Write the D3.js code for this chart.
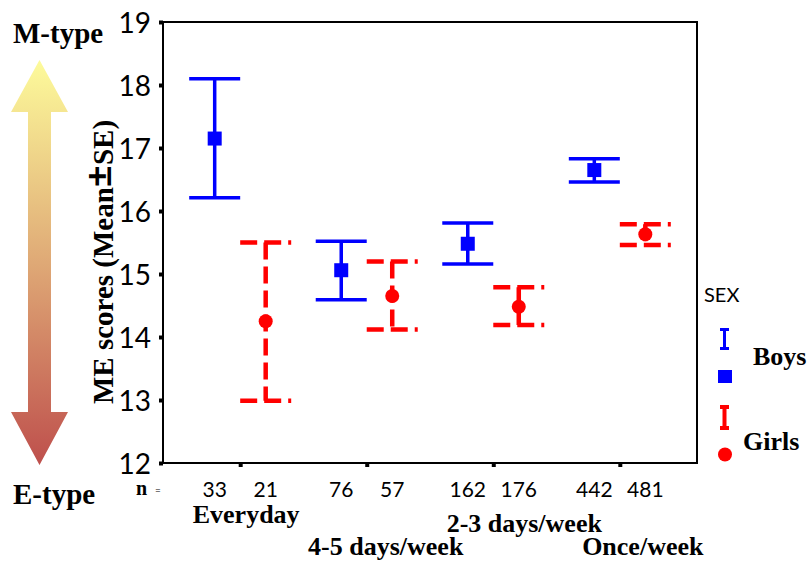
<!DOCTYPE html>
<html lang="en">
<head>
<meta charset="UTF-8">
<title>ME scores by frequency and sex</title>
<script src="https://d3js.org/d3.v7.min.js"></script>
<style>
  body { margin: 0; background: #fff; }
  svg { display: block; }
  .serif { font-family: "Liberation Serif", "Times New Roman", serif; font-weight: bold; fill: #000; }
  .sans { font-family: Lato, "Liberation Sans", sans-serif; fill: #000; }
</style>
</head>
<body>
<svg id="chart" width="811" height="562"></svg>
<script>
// categories and values
const categories = ["Everyday", "4-5 days/week", "2-3 days/week", "Once/week"];
const sexes = ["Boys", "Girls"];
const boysMean  = [17.15, 15.06, 15.48, 16.65];
const boysUpper = [18.10, 15.52, 15.81, 16.83];
const boysLower = [16.21, 14.59, 15.16, 16.46];
const girlsMean  = [14.25, 14.65, 14.48, 15.63];
const girlsUpper = [15.50, 15.20, 14.79, 15.79];
const girlsLower = [12.99, 14.12, 14.19, 15.46];
const boysN  = [33, 76, 162, 442];
const girlsN = [21, 57, 176, 481];
const yTicks = [12, 13, 14, 15, 16, 17, 18, 19];

const svg = d3.select("#chart");
const m = { left: 163, right: 697, top: 22, bottom: 463 };

const x = d3.scalePoint().domain(categories).range([m.left, m.right]).padding(0.61);
const xs = d3.scalePoint().domain(sexes).range([-25.5, 25.5]);
const y = d3.scaleLinear().domain([12, 19]).range([m.bottom, m.top]);

// gradient arrow on the left
const defs = svg.append("defs");
const grad = defs.append("linearGradient").attr("id", "arrowGrad")
  .attr("x1", 0).attr("y1", 0).attr("x2", 0).attr("y2", 1);
grad.append("stop").attr("offset", "0%").attr("stop-color", "#fdfb9b");
grad.append("stop").attr("offset", "50%").attr("stop-color", "#dfa976");
grad.append("stop").attr("offset", "100%").attr("stop-color", "#be4f4c");

svg.append("path")
  .attr("d", "M39.5,60 L68,112 L51,112 L51,412 L68,412 L39.5,465 L11,412 L28,412 L28,112 L11,112 Z")
  .attr("fill", "url(#arrowGrad)");

svg.append("text").attr("class", "serif").attr("x", 13).attr("y", 43)
  .attr("font-size", 29).text("M-type");
svg.append("text").attr("class", "serif").attr("x", 13).attr("y", 504)
  .attr("font-size", 29).text("E-type");

// frame
svg.append("rect")
  .attr("x", m.left).attr("y", m.top)
  .attr("width", m.right - m.left).attr("height", m.bottom - m.top)
  .attr("fill", "none").attr("stroke", "#000").attr("stroke-width", 2);

// y axis
const yAxis = svg.append("g").attr("transform", `translate(${m.left},0)`)
  .call(d3.axisLeft(y).tickValues(yTicks).tickFormat(d3.format("d")).tickSize(4).tickPadding(8));
yAxis.select(".domain").remove();
yAxis.selectAll(".tick line").attr("stroke", "#000").attr("stroke-width", 4);
yAxis.selectAll(".tick text").attr("class", "sans").attr("font-size", 28)
  .attr("dy", "0.36em");

// x axis ticks
const xAxis = svg.append("g").attr("transform", `translate(0,${m.bottom})`)
  .call(d3.axisBottom(x).tickSize(4).tickFormat(""));
xAxis.select(".domain").remove();
xAxis.selectAll(".tick line").attr("stroke", "#000").attr("stroke-width", 4);

// y title
const yt = svg.append("text").attr("class", "serif")
  .attr("transform", "translate(113,262) rotate(-90)")
  .attr("text-anchor", "middle").attr("font-size", 29);
yt.append("tspan").text("ME scores (Mean");
yt.append("tspan").attr("font-family", "Lato, sans-serif").attr("font-size", 38)
  .attr("font-weight", "bold").text("\u00B1");
yt.append("tspan").text("SE)");

// n labels
svg.append("text").attr("class", "serif").attr("x", 136).attr("y", 495)
  .attr("font-size", 20).text("n");
svg.append("text").attr("class", "sans").attr("x", 155).attr("y", 494)
  .attr("font-size", 10).text("=");

const nRows = [];
categories.forEach((c, i) => {
  nRows.push({ c, s: "Boys", n: boysN[i] });
  nRows.push({ c, s: "Girls", n: girlsN[i] });
});
svg.selectAll(".nlab").data(nRows).join("text")
  .attr("class", "sans nlab")
  .attr("x", d => x(d.c) + xs(d.s))
  .attr("y", 497)
  .attr("text-anchor", "middle").attr("font-size", 21)
  .text(d => d.n);

// staggered category labels (layout only)
const labelShift = [[6, 523], [19, 555], [31, 532], [23, 555]];
svg.selectAll(".clab").data(categories).join("text")
  .attr("class", "serif clab")
  .attr("x", (d, i) => x(d) + labelShift[i][0])
  .attr("y", (d, i) => labelShift[i][1])
  .attr("text-anchor", "middle").attr("font-size", 26)
  .text(d => d);

// error bars
const rows = [];
categories.forEach((c, i) => {
  rows.push({ c, s: "Boys", mean: boysMean[i], lo: boysLower[i], hi: boysUpper[i] });
  rows.push({ c, s: "Girls", mean: girlsMean[i], lo: girlsLower[i], hi: girlsUpper[i] });
});
const color = { Boys: "#0000ff", Girls: "#ff0000" };
const capW = 51;

const bars = svg.selectAll(".bar").data(rows).join("g").attr("class", "bar")
  .attr("stroke", d => color[d.s])
  .attr("stroke-width", d => d.s === "Boys" ? 3.5 : 4.5)
  .attr("stroke-dasharray", d => d.s === "Boys" ? null : "17,7")
  .attr("fill", "none");

bars.append("line")
  .attr("x1", d => x(d.c) + xs(d.s)).attr("x2", d => x(d.c) + xs(d.s))
  .attr("y1", d => y(d.hi)).attr("y2", d => y(d.lo));
bars.append("line")
  .attr("x1", d => x(d.c) + xs(d.s) - capW / 2).attr("x2", d => x(d.c) + xs(d.s) + capW / 2)
  .attr("y1", d => y(d.hi)).attr("y2", d => y(d.hi));
bars.append("line")
  .attr("x1", d => x(d.c) + xs(d.s) - capW / 2).attr("x2", d => x(d.c) + xs(d.s) + capW / 2)
  .attr("y1", d => y(d.lo)).attr("y2", d => y(d.lo));

// mean markers
svg.selectAll(".sq").data(rows.filter(d => d.s === "Boys")).join("rect")
  .attr("class", "sq")
  .attr("x", d => x(d.c) + xs(d.s) - 7).attr("y", d => y(d.mean) - 7)
  .attr("width", 14).attr("height", 14).attr("fill", color.Boys);
svg.selectAll(".dot").data(rows.filter(d => d.s === "Girls")).join("circle")
  .attr("class", "dot")
  .attr("cx", d => x(d.c) + xs(d.s)).attr("cy", d => y(d.mean))
  .attr("r", 7).attr("fill", color.Girls);

// legend
const lg = svg.append("g");
lg.append("text").attr("class", "sans").attr("x", 704).attr("y", 302)
  .attr("font-size", 20).text("SEX");

function legendI(g, cx, y1, y2, col, w) {
  g.append("line").attr("x1", cx).attr("x2", cx).attr("y1", y1).attr("y2", y2)
    .attr("stroke", col).attr("stroke-width", w);
  [y1, y2].forEach(yy => g.append("line")
    .attr("x1", cx - 4.5).attr("x2", cx + 4.5).attr("y1", yy).attr("y2", yy)
    .attr("stroke", col).attr("stroke-width", w));
}
legendI(lg, 724.5, 329.5, 348.5, color.Boys, 3);
lg.append("rect").attr("x", 718).attr("y", 370).attr("width", 14).attr("height", 13)
  .attr("fill", color.Boys);
lg.append("text").attr("class", "serif").attr("x", 753).attr("y", 365)
  .attr("font-size", 26).text("Boys");

legendI(lg, 724.5, 407, 428, color.Girls, 4);
lg.append("circle").attr("cx", 725).attr("cy", 454.5).attr("r", 7).attr("fill", color.Girls);
lg.append("text").attr("class", "serif").attr("x", 743).attr("y", 450)
  .attr("font-size", 26).text("Girls");
</script>
</body>
</html>
